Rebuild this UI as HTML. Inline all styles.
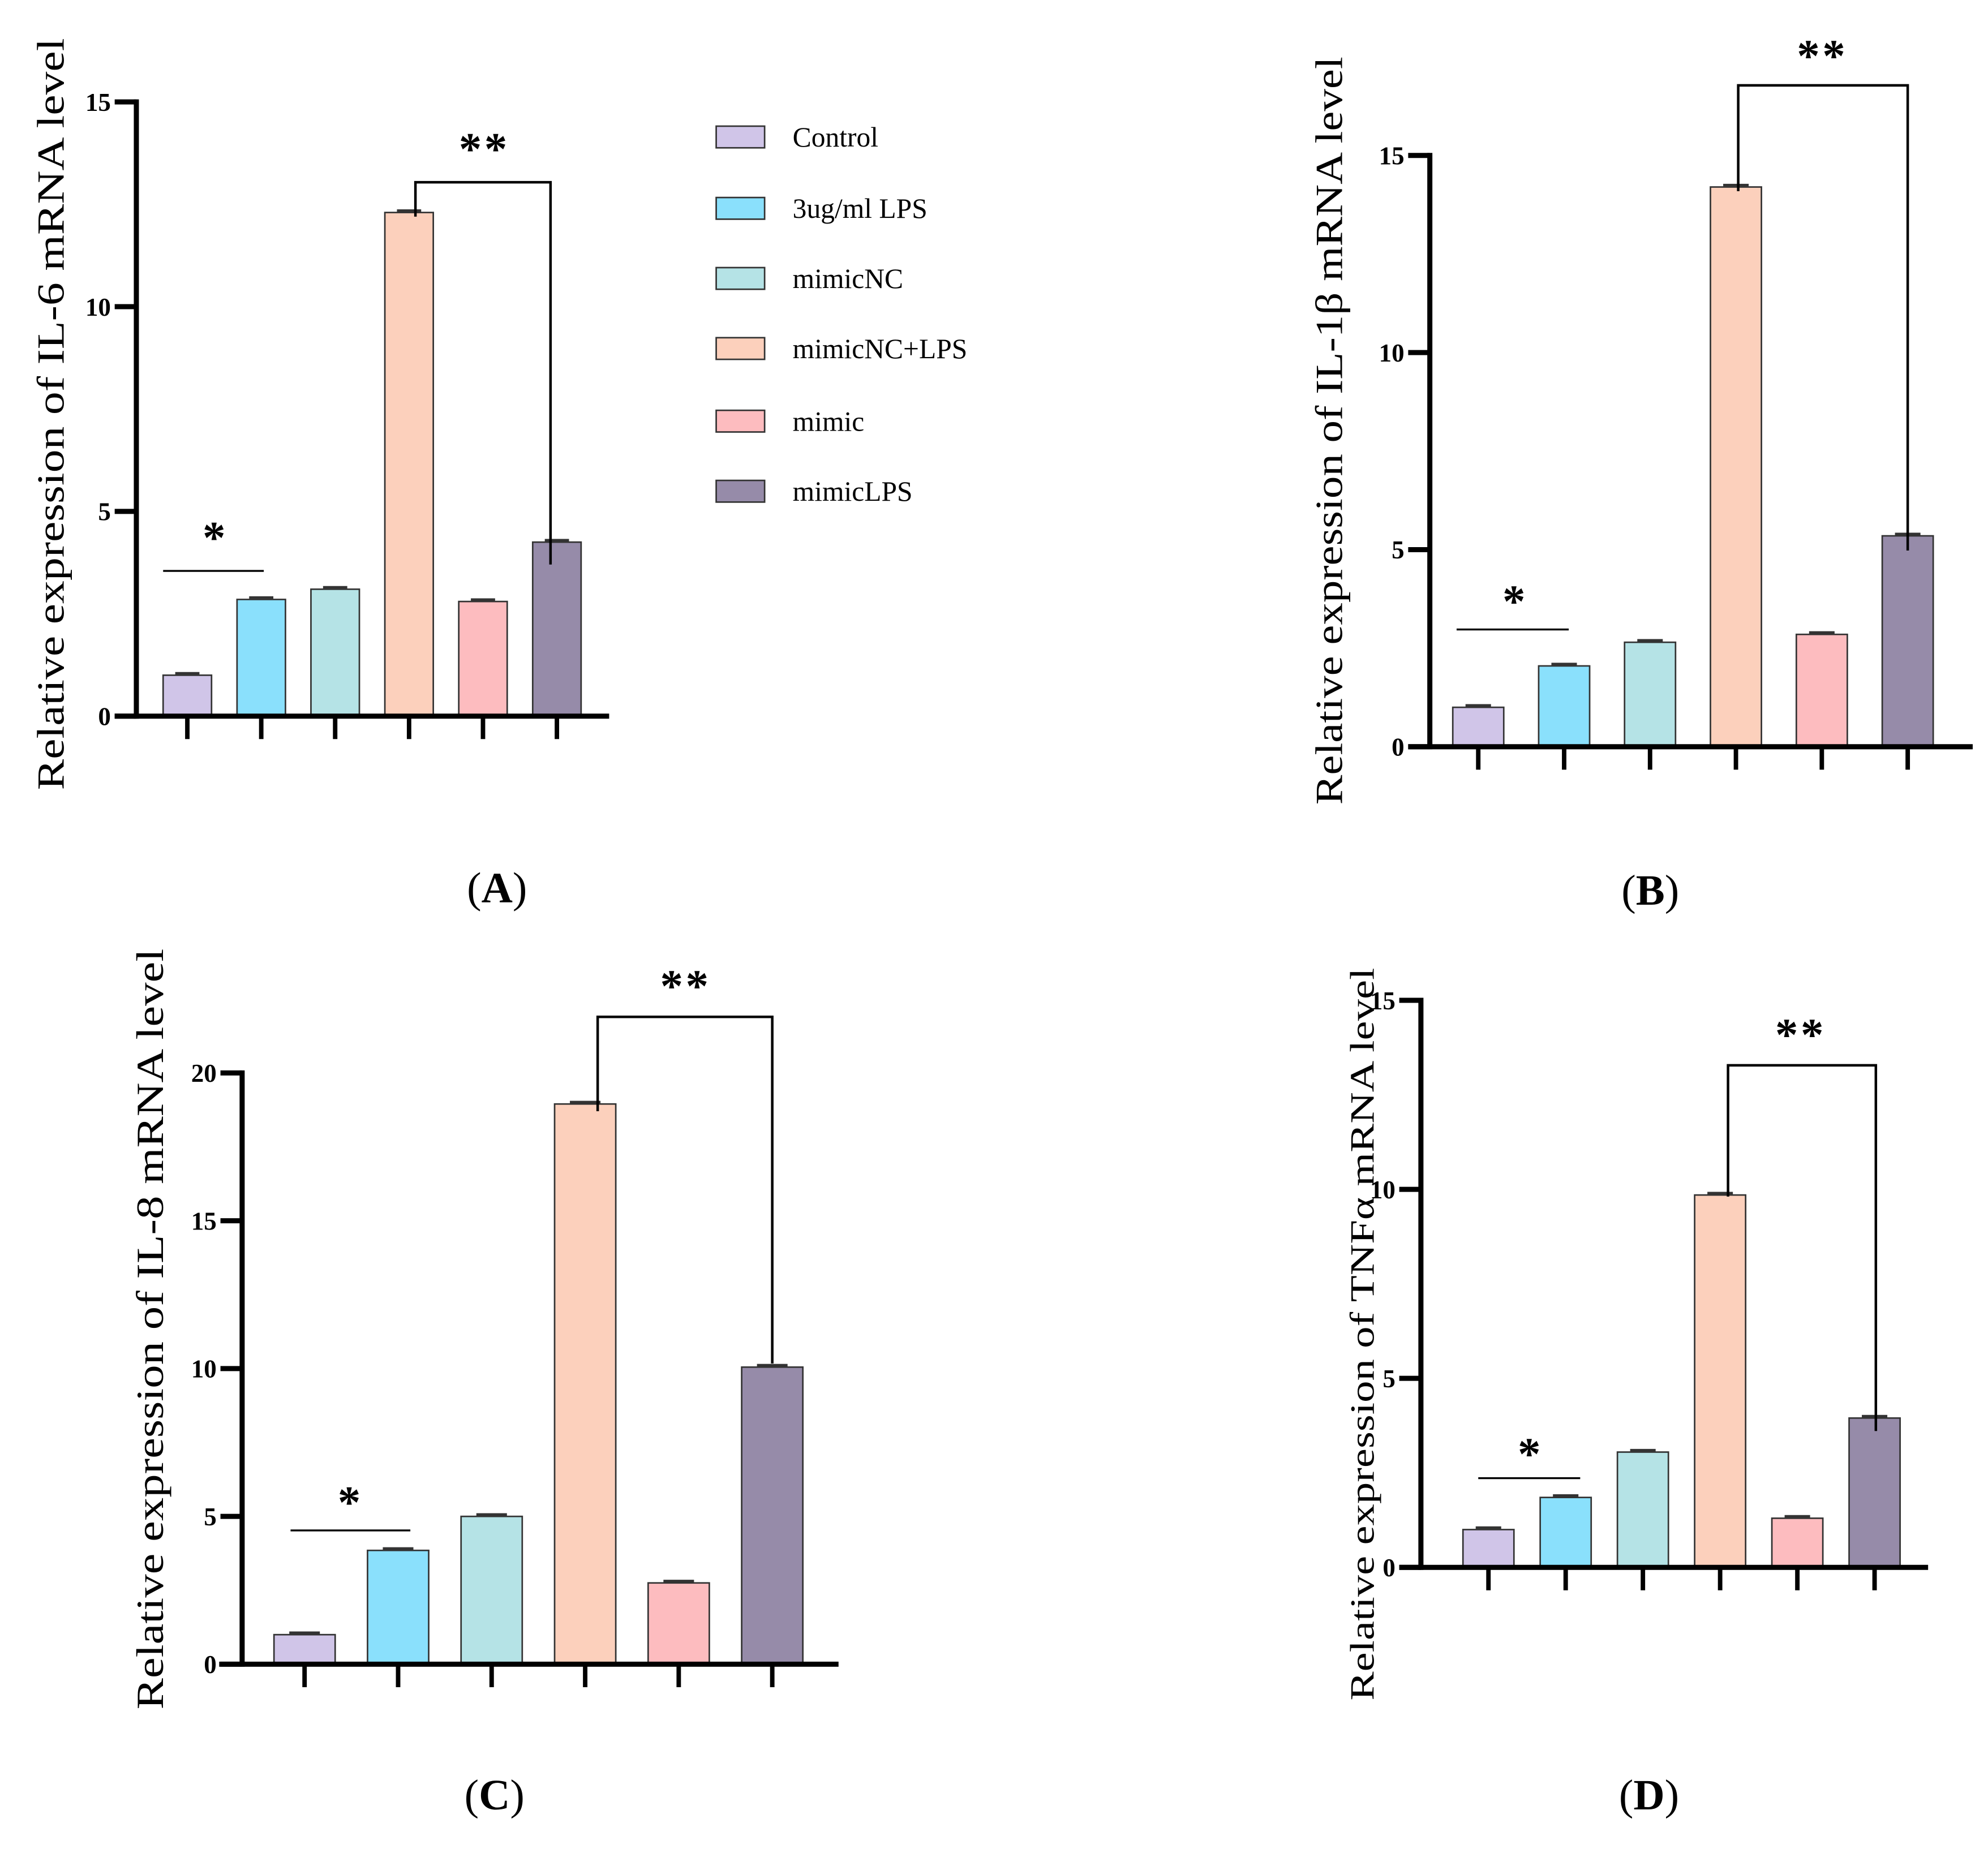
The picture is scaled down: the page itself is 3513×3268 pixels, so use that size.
<!DOCTYPE html>
<html><head><meta charset="utf-8"><style>
html,body{margin:0;padding:0;background:#fff;width:3513px;height:3268px;overflow:hidden}
svg text{font-family:"Liberation Serif",serif}
</style></head><body>
<svg id="fig" width="3513" height="3268" viewBox="0 0 1560 1451" preserveAspectRatio="none" xmlns="http://www.w3.org/2000/svg"></svg>
<script>
const groups = ["Control","3ug/ml LPS","mimicNC","mimicNC+LPS","mimic","mimicLPS"];
const colors = ["#d0c5e8","#8ae0fc","#b5e3e6","#fcd0bc","#fdbcbf","#968ba9"];
const valuesA = [1.0,2.85,3.1,12.3,2.8,4.25];
const valuesB = [1.0,2.05,2.65,14.2,2.85,5.35];
const valuesC = [1.0,3.85,5.0,18.95,2.75,10.05];
const valuesD = [1.0,1.85,3.05,9.85,1.3,3.95];
const ticksA = [0,5,10,15];
const ticksB = [0,5,10,15];
const ticksC = [0,5,10,15,20];
const ticksD = [0,5,10,15];
const titles = ["Relative expression of IL-6 mRNA level","Relative expression of IL-1β mRNA level","Relative expression of IL-8 mRNA level","Relative expression of TNFα mRNA level"];
const panelLabels = ["A","B","C","D"];

const NS="http://www.w3.org/2000/svg";
const svg=document.getElementById('fig');
function mk(tag,attrs,parent){const e=document.createElementNS(NS,tag);for(const k in attrs)e.setAttribute(k,attrs[k]);(parent||svg).appendChild(e);return e;}

const panels=[
 {v:valuesA,t:ticksA,ax:107,y0:562,ymaxPix:80,ymax:15,xs:90,xe:478,c0:147,dc:58,bw:38,
  star:{x1:128,x2:207,y:448,sx:168,sy:434},br:{x1:326,x2:432,top:143,l:170,r:443,sx:380,sy:129},
  title:{x:50,y:325,len:590,fs:30},lab:{x:390,y:708},id:'a'},
 {v:valuesB,t:ticksB,ax:1122,y0:586,ymaxPix:122,ymax:15,xs:1105,xe:1548,c0:1160,dc:67.4,bw:40,
  star:{x1:1143,x2:1231,y:494,sx:1188,sy:484},br:{x1:1364,x2:1497,top:67,l:150,r:432,sx:1430,sy:56},
  title:{x:1053,y:338,len:587,fs:30},lab:{x:1295,y:710},id:'b'},
 {v:valuesC,t:ticksC,ax:190,y0:1306,ymaxPix:842,ymax:20,xs:172,xe:658,c0:239,dc:73.4,bw:48,
  star:{x1:228,x2:322,y:1201,sx:274,sy:1191},br:{x1:469,x2:606,top:798,l:872,r:1070,sx:538,sy:786},
  title:{x:128,y:1043,len:597,fs:30},lab:{x:388,y:1420},id:'c'},
 {v:valuesD,t:ticksD,ax:1115,y0:1230,ymaxPix:785,ymax:15,xs:1098,xe:1513,c0:1168,dc:60.6,bw:40,
  star:{x1:1160,x2:1240,y:1160,sx:1200,sy:1153},br:{x1:1356,x2:1472,top:836,l:939,r:1123,sx:1413,sy:824},
  title:{x:1078,y:1047,len:575,fs:27},lab:{x:1294,y:1420},id:'d'}
];

panels.forEach((p,pi)=>{
 const g=mk('g',{});
 
 
 const yScale=v=>p.y0-(v/p.ymax)*(p.y0-p.ymaxPix);
 const xScale=i=>p.c0+i*p.dc;
 p.v.forEach((val,i)=>{
  const r=mk('rect',{x:xScale(i)-p.bw/2,y:yScale(val),width:p.bw,height:p.y0-yScale(val),fill:colors[i],stroke:'#333',"stroke-width":1.2},g);
  
  
  const e=mk('line',{x1:xScale(i)-p.bw*0.25,x2:xScale(i)+p.bw*0.25,y1:yScale(val)-1.5,y2:yScale(val)-1.5,stroke:'#333',"stroke-width":2},g);
  
  
  const tk=mk('line',{x1:xScale(i),x2:xScale(i),y1:p.y0,y2:p.y0+18,stroke:'#000',"stroke-width":3.5},g);
  
  
 });
 const ya=mk('line',{x1:p.ax,x2:p.ax,y1:p.ymaxPix-2,y2:p.y0+2,stroke:'#000',"stroke-width":4},g);
 
 
 const xa=mk('line',{x1:p.xs,x2:p.xe,y1:p.y0,y2:p.y0,stroke:'#000',"stroke-width":4},g);
 
 
 p.t.forEach(t=>{
  const y=yScale(t);
  const l=mk('line',{x1:p.ax-17,x2:p.ax,y1:y,y2:y,stroke:'#000',"stroke-width":4},g);
  
  
  const tx=mk('text',{x:p.ax-20,y:y+7,"text-anchor":'end',"font-size":20,"font-weight":'bold'},g);
  tx.textContent=t;
  
  
 });
 const s=p.star;
 const sl=mk('line',{x1:s.x1,x2:s.x2,y1:s.y,y2:s.y,stroke:'#000',"stroke-width":1.5},g);
 
 
 const st=mk('text',{x:s.sx,y:s.sy,"text-anchor":'middle',"font-size":36,"font-weight":'bold'},g);
 st.textContent='*';
 
 
 const b=p.br;
 const bp=mk('polyline',{points:`${b.x1},${b.l} ${b.x1},${b.top} ${b.x2},${b.top} ${b.x2},${b.r}`,fill:'none',stroke:'#000',"stroke-width":2},g);
 
 
 const bt=mk('text',{x:b.sx,y:b.sy,"text-anchor":'middle',"font-size":36,"font-weight":'bold',"letter-spacing":2},g);
 bt.textContent='**';
 
 
 const tt=mk('text',{x:p.title.x,y:p.title.y,"text-anchor":'middle',"font-size":p.title.fs,textLength:p.title.len,lengthAdjust:'spacingAndGlyphs',transform:`rotate(-90 ${p.title.x} ${p.title.y})`},g);
 tt.textContent=titles[pi];
 
 
 const pl=mk('text',{x:p.lab.x,y:p.lab.y,"text-anchor":'middle',"font-size":34},g);
 pl.innerHTML='(<tspan font-weight="bold">'+panelLabels[pi]+'</tspan>)';
 
 
});

const legY=[107,163,218,273,330,385];
groups.forEach((gname,i)=>{
 const r=mk('rect',{x:562,y:legY[i]-8,width:38,height:17,fill:colors[i],stroke:'#333',"stroke-width":1.2});
 
 
 const t=mk('text',{x:622,y:legY[i]+8,"font-size":22});
 t.textContent=gname;
 
 
});
</script>
</body></html>
